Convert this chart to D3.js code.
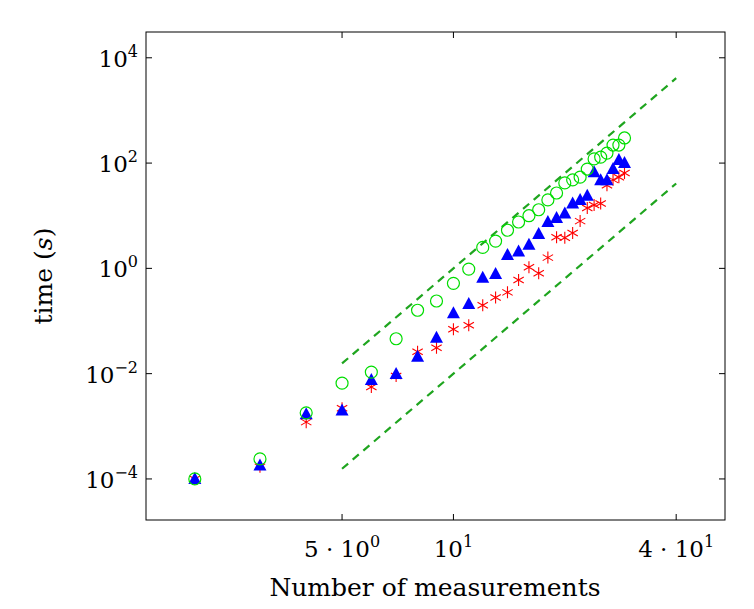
<!DOCTYPE html>
<html><head><meta charset="utf-8">
<script src="https://cdn.jsdelivr.net/npm/d3@7"></script>
<style>body{margin:0;background:#fff}</style>
</head><body>
<svg id="c" width="754" height="609"></svg>
<script>
var nMeas = [2,3,4,5,6,7,8,9,10,11,12,13,14,15,16,17,18,19,20,21,22,23,24,25,26,27,28,29];
var circleTimes = [1e-4,2.4e-4,1.8e-3,6.6e-3,0.0107,0.046,0.16,0.24,0.52,0.97,2.5,3.3,5.3,7.6,10,13,20,27,42,48,54,77,120,130,155,220,220,300];
var triTimes = [1e-4,1.8e-4,1.7e-3,2.0e-3,7.6e-3,9.8e-3,0.021,0.048,0.14,0.21,0.66,0.78,1.8,2.1,2.8,4.5,7.6,9.1,11,17,20,24,67,47,47,77,115,100];
var starTimes = [1e-4,1.7e-4,1.2e-3,2.2e-3,5.6e-3,9e-3,0.026,0.031,0.070,0.083,0.20,0.28,0.35,0.60,1.05,0.81,1.6,3.9,3.8,4.7,7.9,14,16,17,38,48,54,65];
var guideX = [5,40];
var guideUpper = [1.5625e-2,4096];
var guideLower = [1.5625e-4,40.96];
var xTicks = [5,10,40];
var xTickLabels = [["5 · 10","0"],["10","1"],["4 · 10","1"]];
var yTicks = [1e-4,1e-2,1,1e2,1e4];
var yTickExp = ["−4","−2","0","2","4"];

var L=146,R=725,T=32,B=520;
var svg=d3.select("#c");
var x=d3.scaleLog().domain([1.476,54.2]).range([L,R]);
var y=d3.scaleLog().domain([Math.pow(10,-4.78),Math.pow(10,4.49)]).range([B,T]);
var font="'DejaVu Serif', 'Liberation Serif', serif";

svg.append("rect").attr("x",L).attr("y",T).attr("width",R-L).attr("height",B-T)
  .attr("fill","none").attr("stroke","#000").attr("stroke-width",1);

// ticks
xTicks.forEach(function(t,i){
  svg.append("line").attr("x1",x(t)).attr("x2",x(t)).attr("y1",B).attr("y2",B-6).attr("stroke","#000");
  svg.append("line").attr("x1",x(t)).attr("x2",x(t)).attr("y1",T).attr("y2",T+6).attr("stroke","#000");
  var tx=svg.append("text").attr("x",x(t)).attr("y",B+37).attr("text-anchor","middle")
    .attr("font-family",font).attr("font-size",23);
  tx.append("tspan").text(xTickLabels[i][0]);
  tx.append("tspan").attr("dy",-10).attr("font-size",16).text(xTickLabels[i][1]);
});
yTicks.forEach(function(t,i){
  svg.append("line").attr("x1",L).attr("x2",L+6).attr("y1",y(t)).attr("y2",y(t)).attr("stroke","#000");
  svg.append("line").attr("x1",R).attr("x2",R-6).attr("y1",y(t)).attr("y2",y(t)).attr("stroke","#000");
  var tx=svg.append("text").attr("x",L-8).attr("y",y(t)+9).attr("text-anchor","end")
    .attr("font-family",font).attr("font-size",23);
  tx.append("tspan").text("10");
  tx.append("tspan").attr("dy",-10).attr("font-size",16).text(yTickExp[i]);
});

// guide lines
[guideUpper,guideLower].forEach(function(g){
  svg.append("line").attr("x1",x(guideX[0])).attr("y1",y(g[0])).attr("x2",x(guideX[1])).attr("y2",y(g[1]))
    .attr("stroke","#1fa51f").attr("stroke-width",2.2).attr("stroke-dasharray","8,6");
});

var star="M0,-6L0,6M-5.2,-3L5.2,3M-5.2,3L5.2,-3";
svg.selectAll(".st").data(nMeas).enter().append("path").attr("class","st")
  .attr("d",star).attr("transform",function(d,i){return "translate("+x(d)+","+y(starTimes[i])+")";})
  .attr("stroke","#ff0000").attr("stroke-width",1.1).attr("fill","none");
svg.selectAll(".tr").data(nMeas).enter().append("path").attr("class","tr")
  .attr("d","M0,-7L6.5,5L-6.5,5Z").attr("transform",function(d,i){return "translate("+x(d)+","+y(triTimes[i])+")";})
  .attr("fill","#0000ff");
svg.selectAll(".ci").data(nMeas).enter().append("circle").attr("class","ci")
  .attr("cx",function(d){return x(d);}).attr("cy",function(d,i){return y(circleTimes[i]);}).attr("r",6)
  .attr("fill","none").attr("stroke","#00dd00").attr("stroke-width",1.2);

svg.append("text").attr("x",435).attr("y",596).attr("text-anchor","middle")
  .attr("font-family",font).attr("font-size",25).text("Number of measurements");
var yl=svg.append("text").attr("transform","translate(52,276) rotate(-90)").attr("text-anchor","middle")
  .attr("font-family",font).attr("font-size",25);
yl.append("tspan").text("time (");
yl.append("tspan").attr("font-style","italic").text("s");
yl.append("tspan").text(")");
</script>
</body></html>
